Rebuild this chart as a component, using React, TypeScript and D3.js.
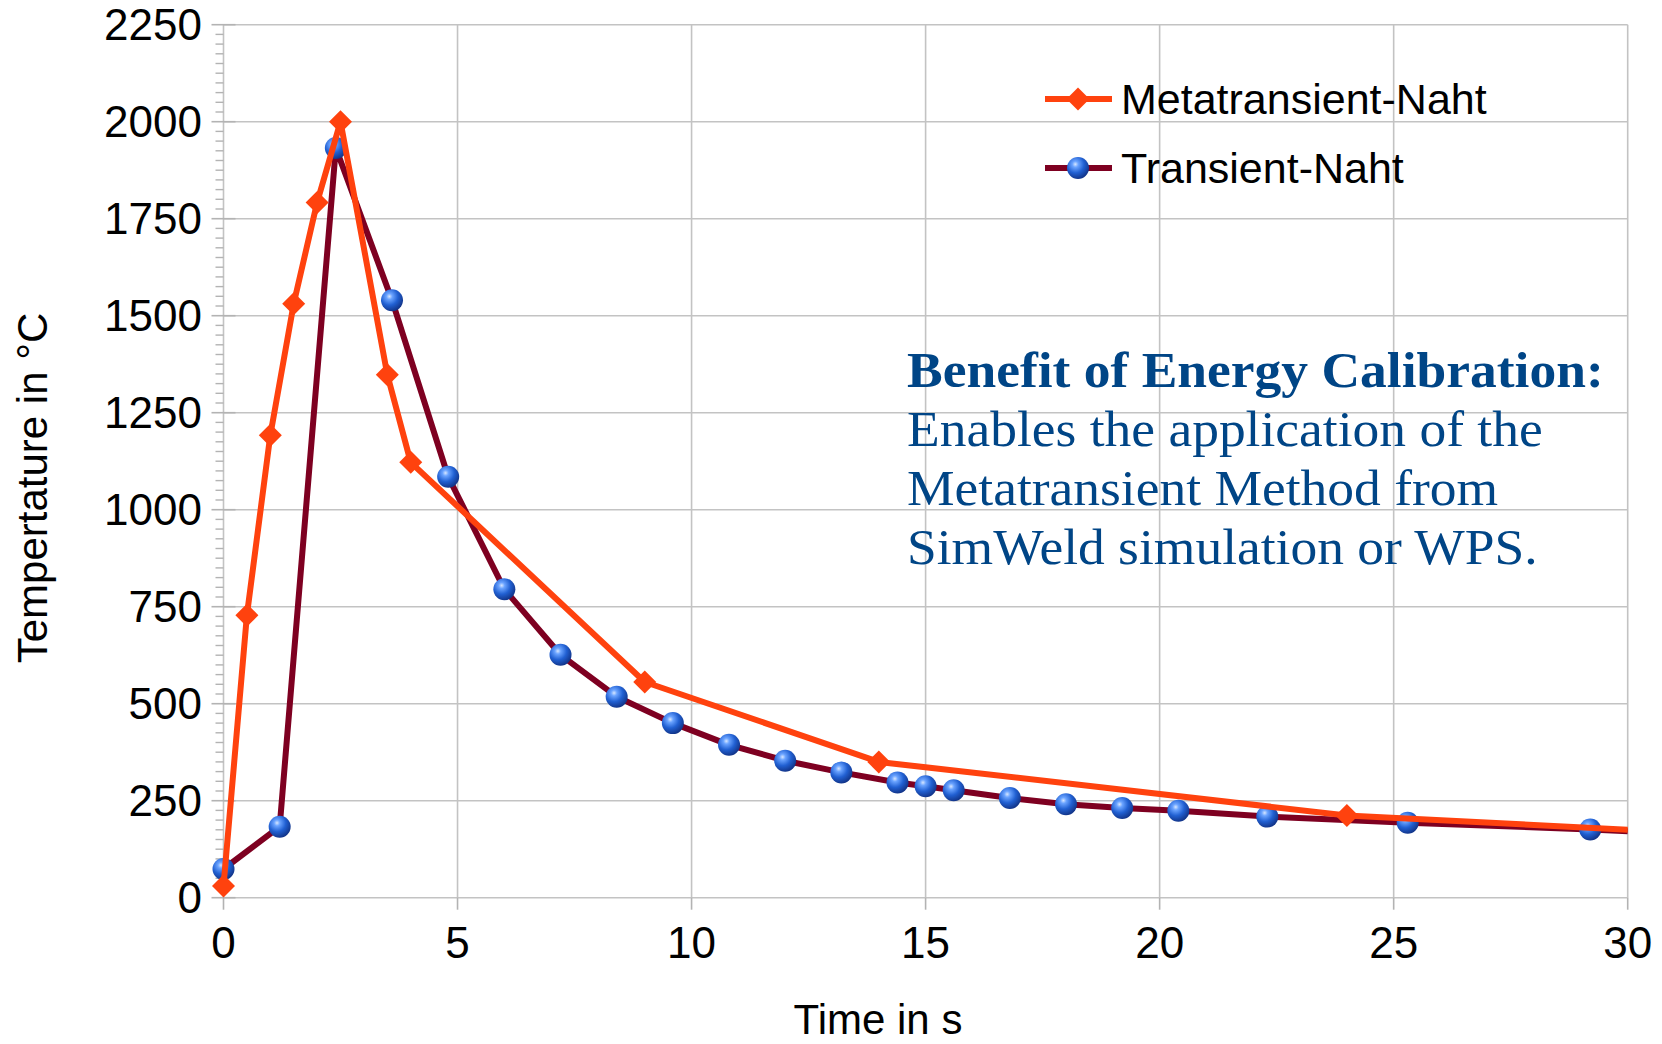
import React from "react";
import * as d3 from "d3";

const metaTimes = [0, 0.5, 1, 1.5, 2, 2.5, 3.5, 4, 9, 14, 24, 30];
const metaTemps = [30, 728, 1192, 1531, 1792, 2000, 1348, 1122, 556, 350, 212, 175];

const transTimes = [0, 1.2, 2.4, 3.6, 4.8, 6.0, 7.2, 8.4, 9.6, 10.8, 12.0, 13.2, 14.4, 15.0, 15.6, 16.8, 18.0, 19.2, 20.4, 22.3, 25.3, 29.2, 30];
const transTemps = [74, 183, 1932, 1540, 1085, 795, 626, 518, 450, 394, 353, 323, 297, 287, 277, 257, 241, 231, 224, 209, 193, 176, 171];

const xTicks = [0, 5, 10, 15, 20, 25, 30];
const yTicks = [0, 250, 500, 750, 1000, 1250, 1500, 1750, 2000, 2250];
const yMinorStep = 25;

const seriesNames = ["Metatransient-Naht", "Transient-Naht"];
const xTitle = "Time in s";
const yTitle = "Tempertature in °C";
const noteTitle = "Benefit of Energy Calibration:";
const noteLines = ["Enables the application of the", "Metatransient Method from", "SimWeld simulation or WPS."];

const W = 1662;
const H = 1044;
const ORANGE = "#ff420e";
const DARKRED = "#7e0021";
const GRID = "#c3c3c3";
const TEXTBLUE = "#004586";
const SANS = "'Liberation Sans', Arial, sans-serif";
const SERIF = "'Liberation Serif', 'Times New Roman', serif";

export default function App() {
  const x = d3.scaleLinear().domain([0, 30]).range([223.5, 1627.7]);
  const y = d3.scaleLinear().domain([0, 2250]).range([897.7, 24.7]);
  const x0 = x(0);
  const y0 = y(0);

  const meta = metaTimes.map((t, i) => [t, metaTemps[i]] as [number, number]);
  const trans = transTimes.map((t, i) => [t, transTemps[i]] as [number, number]);

  const line = d3
    .line<[number, number]>()
    .x((d) => x(d[0]))
    .y((d) => y(d[1]));

  const minor: number[] = d3.range(0, 2250 + 1, yMinorStep).filter((v) => v % 250 !== 0);

  const diamond = (cx: number, cy: number, r: number) =>
    `M${cx},${cy - r} L${cx + r},${cy} L${cx},${cy + r} L${cx - r},${cy} Z`;

  const tickFs = 44;
  const DM = 11.5;
  const SR = 11;

  return (
    <div style={{ position: "fixed", left: 0, top: 0, width: W, height: H, background: "#fff" }}>
      <svg width={W} height={H} viewBox={`0 0 ${W} ${H}`} style={{ display: "block" }}>
        <defs>
          <radialGradient id="sphere" cx="38%" cy="33%" r="68%">
            <stop offset="0%" stopColor="#d6e6ff" />
            <stop offset="20%" stopColor="#6aa3ff" />
            <stop offset="58%" stopColor="#2160d2" />
            <stop offset="100%" stopColor="#12358a" />
          </radialGradient>
        </defs>
        <rect x={0} y={0} width={W} height={H} fill="#fff" />

        {/* grid */}
        {yTicks.map((v) => (
          <line key={"gy" + v} x1={x0} x2={x(30)} y1={y(v)} y2={y(v)} stroke={GRID} strokeWidth={1.6} />
        ))}
        {xTicks.map((v) => (
          <line key={"gx" + v} x1={x(v)} x2={x(v)} y1={y(2250)} y2={y0} stroke={GRID} strokeWidth={1.6} />
        ))}

        {/* y ticks */}
        {minor.map((v) => (
          <line key={"mn" + v} x1={x0 - 8} x2={x0} y1={y(v)} y2={y(v)} stroke="#b3b3b3" strokeWidth={1.4} />
        ))}
        {yTicks.map((v) => (
          <line key={"mj" + v} x1={x0 - 12} x2={x0 + 12} y1={y(v)} y2={y(v)} stroke="#b3b3b3" strokeWidth={1.6} />
        ))}
        {xTicks.map((v) => (
          <line key={"xt" + v} x1={x(v)} x2={x(v)} y1={y0} y2={y0 + 12} stroke="#b3b3b3" strokeWidth={1.6} />
        ))}

        {/* tick labels */}
        {yTicks.map((v) => (
          <text key={"yl" + v} x={202} y={y(v) + 15.7} textAnchor="end" fontFamily={SANS} fontSize={tickFs} fill="#000">
            {v}
          </text>
        ))}
        {xTicks.map((v) => (
          <text key={"xl" + v} x={x(v)} y={957.5} textAnchor="middle" fontFamily={SANS} fontSize={tickFs} fill="#000">
            {v}
          </text>
        ))}

        {/* axis titles */}
        <text x={878} y={1034} textAnchor="middle" fontFamily={SANS} fontSize={42} fill="#000">
          {xTitle}
        </text>
        <text transform={`translate(47,488) rotate(-90)`} textAnchor="middle" fontFamily={SANS} fontSize={42} fill="#000">
          {yTitle}
        </text>

        {/* Transient series */}
        <path d={line(trans) || ""} fill="none" stroke={DARKRED} strokeWidth={6} strokeLinejoin="round" />
        {trans
          .filter((d) => d[0] < 30)
          .map((d, i) => (
            <circle key={"tc" + i} cx={x(d[0])} cy={y(d[1])} r={SR} fill="url(#sphere)" />
          ))}

        {/* Metatransient series */}
        <path d={line(meta) || ""} fill="none" stroke={ORANGE} strokeWidth={6} strokeLinejoin="round" />
        {meta
          .filter((d) => d[0] < 30)
          .map((d, i) => (
            <path key={"md" + i} d={diamond(x(d[0]), y(d[1]), DM)} fill={ORANGE} />
          ))}

        {/* legend */}
        <line x1={1045} x2={1112} y1={99} y2={99} stroke={ORANGE} strokeWidth={6} />
        <path d={diamond(1078, 99, DM)} fill={ORANGE} />
        <text x={1121} y={114} fontFamily={SANS} fontSize={43} fill="#000">
          {seriesNames[0]}
        </text>
        <line x1={1045} x2={1112} y1={168} y2={168} stroke={DARKRED} strokeWidth={6} />
        <circle cx={1078} cy={168} r={SR} fill="url(#sphere)" />
        <text x={1121} y={183} fontFamily={SANS} fontSize={43} fill="#000">
          {seriesNames[1]}
        </text>

        {/* annotation */}
        <text
          transform={`translate(907,387) scale(1.07,1)`}
          fontFamily={SERIF}
          fontWeight="bold"
          fontSize={50}
          fill={TEXTBLUE}
        >
          {noteTitle}
        </text>
        {noteLines.map((s, i) => (
          <text
            key={"nl" + i}
            transform={`translate(907,${446 + i * 59}) scale(1.07,1)`}
            fontFamily={SERIF}
            fontSize={50}
            fill={TEXTBLUE}
          >
            {s}
          </text>
        ))}
      </svg>
    </div>
  );
}
